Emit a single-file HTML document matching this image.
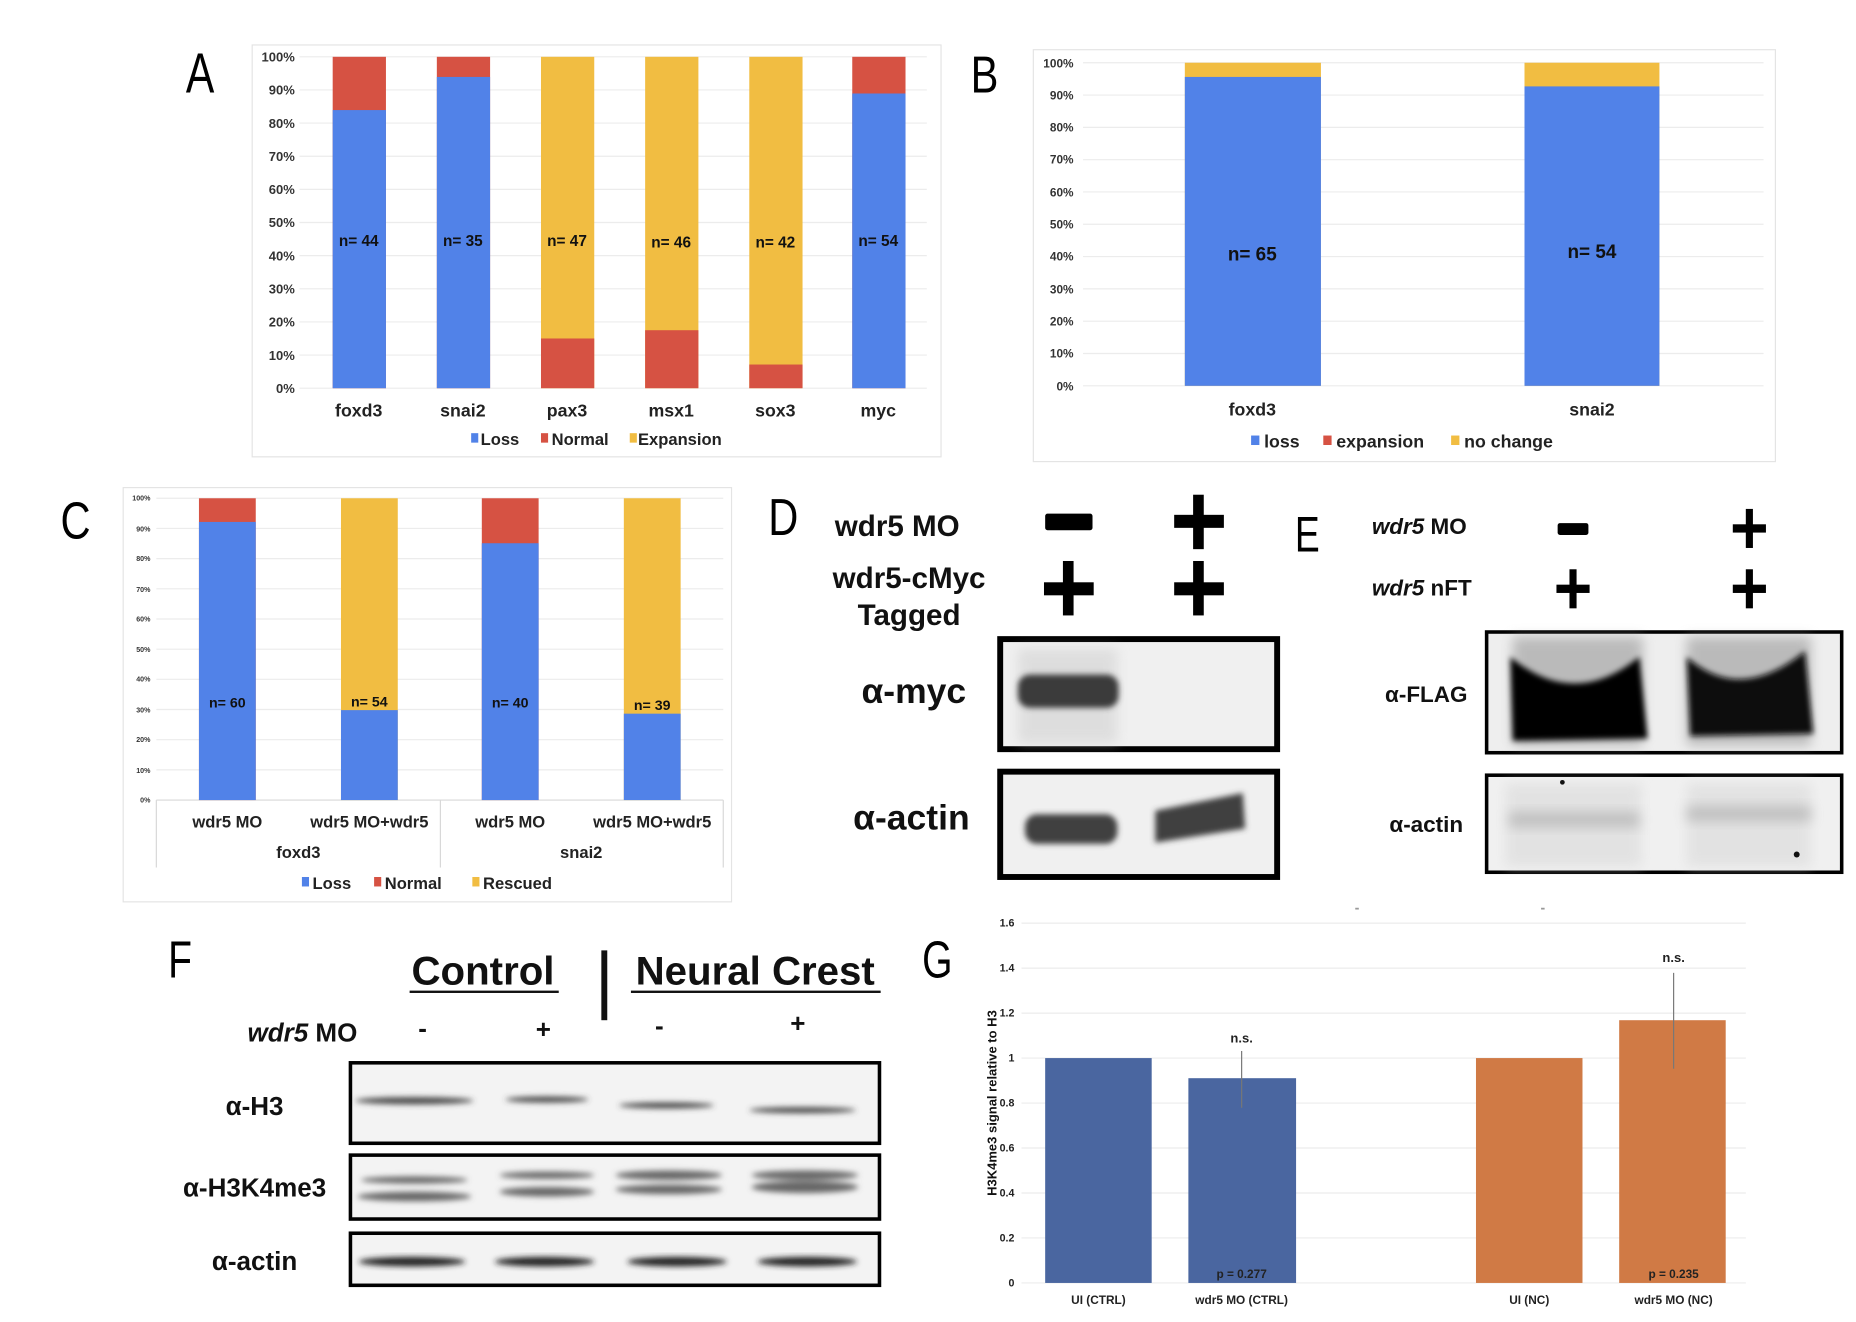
<!DOCTYPE html>
<html><head><meta charset="utf-8"><style>
html,body{margin:0;padding:0;background:#fff;}
svg{display:block;}
text{font-family:"Liberation Sans",sans-serif;}
</style></head><body>
<svg width="1856" height="1322" viewBox="0 0 1568 1117" xmlns="http://www.w3.org/2000/svg">
<defs>
<filter id="bl" x="-20%" y="-50%" width="140%" height="200%"><feGaussianBlur stdDeviation="5"/></filter>
<filter id="bl2" x="-20%" y="-50%" width="140%" height="200%"><feGaussianBlur stdDeviation="2.5"/></filter>
</defs>
<rect width="1568" height="1117" fill="#fff"/>

<!-- Panel A -->
<text transform="translate(157,78) scale(0.75,1)" font-size="48" font-family="DejaVu Sans">A</text>
<rect x="213" y="38" width="582" height="348" fill="#fff" stroke="#e4e4e4"/>
<g stroke="#ececec" stroke-width="1">
<line x1="253" y1="48" x2="783" y2="48"/><line x1="253" y1="76" x2="783" y2="76"/><line x1="253" y1="104" x2="783" y2="104"/><line x1="253" y1="132" x2="783" y2="132"/><line x1="253" y1="160" x2="783" y2="160"/><line x1="253" y1="188" x2="783" y2="188"/><line x1="253" y1="216" x2="783" y2="216"/><line x1="253" y1="244" x2="783" y2="244"/><line x1="253" y1="272" x2="783" y2="272"/><line x1="253" y1="300" x2="783" y2="300"/><line x1="253" y1="328" x2="783" y2="328"/>
</g>
<g font-size="11" text-anchor="end" font-weight="bold" fill="#333">
<text x="249" y="52">100%</text><text x="249" y="80">90%</text><text x="249" y="108">80%</text><text x="249" y="136">70%</text><text x="249" y="164">60%</text><text x="249" y="192">50%</text><text x="249" y="220">40%</text><text x="249" y="248">30%</text><text x="249" y="276">20%</text><text x="249" y="304">10%</text><text x="249" y="332">0%</text>
</g>
<rect x="281" y="48" width="45" height="280" fill="#d65243"/><rect x="281" y="93" width="45" height="235" fill="#5182e8"/>
<rect x="369" y="48" width="45" height="280" fill="#d65243"/><rect x="369" y="65" width="45" height="263" fill="#5182e8"/>
<rect x="457" y="48" width="45" height="280" fill="#f1bd42"/><rect x="457" y="286" width="45" height="42" fill="#d65243"/>
<rect x="545" y="48" width="45" height="280" fill="#f1bd42"/><rect x="545" y="279" width="45" height="49" fill="#d65243"/>
<rect x="633" y="48" width="45" height="280" fill="#f1bd42"/><rect x="633" y="308" width="45" height="20" fill="#d65243"/>
<rect x="720" y="48" width="45" height="280" fill="#d65243"/><rect x="720" y="79" width="45" height="249" fill="#5182e8"/>
<g font-size="13" font-weight="bold" text-anchor="middle" fill="#111">
<text x="303" y="208">n= 44</text><text x="391" y="208">n= 35</text><text x="479" y="208">n= 47</text><text x="567" y="209">n= 46</text><text x="655" y="209">n= 42</text><text x="742" y="208">n= 54</text>
</g>
<g font-size="15" font-weight="bold" text-anchor="middle" fill="#222">
<text x="303" y="352">foxd3</text><text x="391" y="352">snai2</text><text x="479" y="352">pax3</text><text x="567" y="352">msx1</text><text x="655" y="352">sox3</text><text x="742" y="352">myc</text>
</g>
<g font-size="14" font-weight="bold" fill="#222">
<rect x="398" y="366" width="6" height="8" fill="#5182e8"/><text x="406" y="376">Loss</text>
<rect x="457" y="366" width="6" height="8" fill="#d65243"/><text x="466" y="376">Normal</text>
<rect x="532" y="366" width="6" height="8" fill="#f1bd42"/><text x="539" y="376">Expansion</text>
</g>

<!-- Panel B -->
<text transform="translate(820,78) scale(0.8,1)" font-size="44" font-family="DejaVu Sans">B</text>
<rect x="873" y="42" width="627" height="348" fill="#fff" stroke="#e4e4e4"/>
<g stroke="#ececec">
<line x1="915" y1="53" x2="1490" y2="53"/><line x1="915" y1="80.3" x2="1490" y2="80.3"/><line x1="915" y1="107.6" x2="1490" y2="107.6"/><line x1="915" y1="134.9" x2="1490" y2="134.9"/><line x1="915" y1="162.2" x2="1490" y2="162.2"/><line x1="915" y1="189.5" x2="1490" y2="189.5"/><line x1="915" y1="216.8" x2="1490" y2="216.8"/><line x1="915" y1="244.1" x2="1490" y2="244.1"/><line x1="915" y1="271.4" x2="1490" y2="271.4"/><line x1="915" y1="298.7" x2="1490" y2="298.7"/><line x1="915" y1="326" x2="1490" y2="326"/>
</g>
<g font-size="10" font-weight="bold" text-anchor="end" fill="#333">
<text x="907" y="57">100%</text><text x="907" y="84">90%</text><text x="907" y="111">80%</text><text x="907" y="138">70%</text><text x="907" y="166">60%</text><text x="907" y="193">50%</text><text x="907" y="220">40%</text><text x="907" y="248">30%</text><text x="907" y="275">20%</text><text x="907" y="302">10%</text><text x="907" y="330">0%</text>
</g>
<rect x="1001" y="53" width="115" height="273" fill="#f1bd42"/><rect x="1001" y="65" width="115" height="261" fill="#5182e8"/>
<rect x="1288" y="53" width="114" height="273" fill="#f1bd42"/><rect x="1288" y="73" width="114" height="253" fill="#5182e8"/>
<g font-size="16" font-weight="bold" text-anchor="middle" fill="#111">
<text x="1058" y="220">n= 65</text><text x="1345" y="218">n= 54</text>
</g>
<g font-size="15" font-weight="bold" text-anchor="middle" fill="#222">
<text x="1058" y="351">foxd3</text><text x="1345" y="351">snai2</text>
</g>
<g font-size="15" font-weight="bold" fill="#222">
<rect x="1057" y="368" width="7" height="8" fill="#5182e8"/><text x="1068" y="378">loss</text>
<rect x="1118" y="368" width="7" height="8" fill="#d65243"/><text x="1129" y="378">expansion</text>
<rect x="1226" y="368" width="7" height="8" fill="#f1bd42"/><text x="1237" y="378">no change</text>
</g>

<!-- Panel C -->
<text transform="translate(51,455) scale(0.8,1)" font-size="44" font-family="DejaVu Sans">C</text>
<rect x="104" y="412" width="514" height="350" fill="#fff" stroke="#e4e4e4"/>
<g stroke="#ececec">
<line x1="132" y1="421" x2="611" y2="421"/><line x1="132" y1="446.5" x2="611" y2="446.5"/><line x1="132" y1="472" x2="611" y2="472"/><line x1="132" y1="497.5" x2="611" y2="497.5"/><line x1="132" y1="523" x2="611" y2="523"/><line x1="132" y1="548.5" x2="611" y2="548.5"/><line x1="132" y1="574" x2="611" y2="574"/><line x1="132" y1="599.5" x2="611" y2="599.5"/><line x1="132" y1="625" x2="611" y2="625"/><line x1="132" y1="650.5" x2="611" y2="650.5"/>
</g>
<line x1="132" y1="676" x2="611" y2="676" stroke="#d8d8d8"/>
<g stroke="#d8d8d8"><line x1="132" y1="676" x2="132" y2="733"/><line x1="372" y1="676" x2="372" y2="733"/><line x1="611" y1="676" x2="611" y2="733"/></g>
<g font-size="6" font-weight="bold" text-anchor="end" fill="#333">
<text x="127" y="423">100%</text><text x="127" y="449">90%</text><text x="127" y="474">80%</text><text x="127" y="500">70%</text><text x="127" y="525">60%</text><text x="127" y="551">50%</text><text x="127" y="576">40%</text><text x="127" y="602">30%</text><text x="127" y="627">20%</text><text x="127" y="653">10%</text><text x="127" y="678">0%</text>
</g>
<rect x="168" y="421" width="48" height="255" fill="#d65243"/><rect x="168" y="441" width="48" height="235" fill="#5182e8"/>
<rect x="288" y="421" width="48" height="255" fill="#f1bd42"/><rect x="288" y="600" width="48" height="76" fill="#5182e8"/>
<rect x="407" y="421" width="48" height="255" fill="#d65243"/><rect x="407" y="459" width="48" height="217" fill="#5182e8"/>
<rect x="527" y="421" width="48" height="255" fill="#f1bd42"/><rect x="527" y="603" width="48" height="73" fill="#5182e8"/>
<g font-size="12" font-weight="bold" text-anchor="middle" fill="#111">
<text x="192" y="598">n= 60</text><text x="312" y="597">n= 54</text><text x="431" y="598">n= 40</text><text x="551" y="600">n= 39</text>
</g>
<g font-size="14" font-weight="bold" text-anchor="middle" fill="#222">
<text x="192" y="699">wdr5 MO</text><text x="312" y="699">wdr5 MO+wdr5</text><text x="431" y="699">wdr5 MO</text><text x="551" y="699">wdr5 MO+wdr5</text>
<text x="252" y="725">foxd3</text><text x="491" y="725">snai2</text>
</g>
<g font-size="14" font-weight="bold" fill="#222">
<rect x="255" y="741" width="6" height="8" fill="#5182e8"/><text x="264" y="751">Loss</text>
<rect x="316" y="741" width="6" height="8" fill="#d65243"/><text x="325" y="751">Normal</text>
<rect x="399" y="741" width="6" height="8" fill="#f1bd42"/><text x="408" y="751">Rescued</text>
</g>

<!-- Panel D -->
<text transform="translate(649,452) scale(0.8,1)" font-size="44" font-family="DejaVu Sans">D</text>
<text x="758" y="453" font-size="25" font-weight="bold" text-anchor="middle" fill="#111">wdr5 MO</text>
<rect x="883" y="434" width="40" height="14" rx="2" fill="#000"/>
<rect x="992" y="435" width="42" height="11" fill="#000"/><rect x="1008" y="418" width="9" height="46" fill="#000"/>
<text x="768" y="497" font-size="25" font-weight="bold" text-anchor="middle" fill="#111">wdr5-cMyc</text>
<text x="768" y="528" font-size="25" font-weight="bold" text-anchor="middle" fill="#111">Tagged</text>
<rect x="882" y="492" width="42" height="11" fill="#000"/><rect x="898" y="474" width="9" height="46" fill="#000"/>
<rect x="992" y="492" width="42" height="11" fill="#000"/><rect x="1008" y="474" width="9" height="46" fill="#000"/>
<rect x="845" y="540" width="234" height="93" fill="#f0f0f0" stroke="#000" stroke-width="5"/>
<rect x="860" y="548" width="84" height="80" fill="#ccc" opacity="0.5" filter="url(#bl)"/>
<rect x="860" y="570" width="85" height="28" rx="10" fill="#3a3a3a" filter="url(#bl2)"/>
<text x="772" y="594" font-size="30" font-weight="bold" text-anchor="middle" fill="#111">α-myc</text>
<rect x="845" y="652" width="234" height="89" fill="#f0f0f0" stroke="#000" stroke-width="5"/>
<rect x="866" y="688" width="78" height="25" rx="10" fill="#404040" filter="url(#bl2)"/>
<polygon points="976,685 1050,670 1052,700 976,712" fill="#404040" filter="url(#bl2)"/>
<text x="770" y="701" font-size="30" font-weight="bold" text-anchor="middle" fill="#111">α-actin</text>

<!-- Panel E -->
<text transform="translate(1094,466) scale(0.75,1)" font-size="42" font-family="DejaVu Sans">E</text>
<text x="1159" y="451" font-size="19" font-weight="bold" fill="#111"><tspan font-style="italic">wdr5</tspan> MO</text>
<rect x="1316" y="442" width="26" height="10" rx="2" fill="#000"/>
<rect x="1464" y="443" width="28" height="7" fill="#000"/><rect x="1475" y="430" width="6" height="33" fill="#000"/>
<text x="1159" y="503" font-size="19" font-weight="bold" fill="#111"><tspan font-style="italic">wdr5</tspan> nFT</text>
<rect x="1315" y="494" width="28" height="7" fill="#000"/><rect x="1326" y="481" width="6" height="33" fill="#000"/>
<rect x="1464" y="494" width="28" height="7" fill="#000"/><rect x="1475" y="481" width="6" height="33" fill="#000"/>
<rect x="1256" y="534" width="300" height="102" fill="#eee" stroke="#000" stroke-width="3"/>
<rect x="1278" y="538" width="110" height="92" fill="#999" opacity="0.6" filter="url(#bl)"/>
<rect x="1425" y="538" width="105" height="92" fill="#999" opacity="0.6" filter="url(#bl)"/>
<path d="M1276,555 Q1330,600 1385,555 L1392,624 L1278,626 Z" fill="#050505" filter="url(#bl2)"/>
<path d="M1425,555 Q1470,595 1525,550 L1532,620 L1428,622 Z" fill="#080808" filter="url(#bl2)"/>
<text x="1205" y="593" font-size="19" font-weight="bold" text-anchor="middle" fill="#111">α-FLAG</text>
<rect x="1256" y="655" width="300" height="82" fill="#f0f0f0" stroke="#000" stroke-width="3"/>
<rect x="1272" y="662" width="115" height="70" fill="#ddd" opacity="0.7" filter="url(#bl)"/>
<rect x="1425" y="662" width="105" height="70" fill="#ddd" opacity="0.7" filter="url(#bl)"/>
<rect x="1275" y="686" width="110" height="13" fill="#aaa" opacity="0.6" filter="url(#bl)"/>
<rect x="1425" y="681" width="105" height="13" fill="#aaa" opacity="0.6" filter="url(#bl)"/>
<circle cx="1320" cy="661" r="2" fill="#111"/><circle cx="1518" cy="722" r="2.5" fill="#111"/>
<text x="1205" y="703" font-size="19" font-weight="bold" text-anchor="middle" fill="#111">α-actin</text>

<!-- Panel F -->
<text transform="translate(142,826) scale(0.75,1)" font-size="44" font-family="DejaVu Sans">F</text>
<text x="408" y="832" font-size="34" font-weight="bold" text-anchor="middle" fill="#111">Control</text>
<rect x="346" y="837" width="126" height="2" fill="#111"/>
<rect x="508" y="803" width="5" height="59" fill="#111"/>
<text x="638" y="832" font-size="34" font-weight="bold" text-anchor="middle" fill="#111">Neural Crest</text>
<rect x="533" y="837" width="211" height="2" fill="#111"/>
<text x="209" y="880" font-size="22" font-weight="bold" fill="#111"><tspan font-style="italic">wdr5</tspan> MO</text>
<g font-size="22" font-weight="bold" text-anchor="middle" fill="#111">
<text x="357" y="876">-</text><text x="459" y="877">+</text><text x="557" y="874">-</text><text x="674" y="872">+</text>
</g>
<rect x="296" y="898" width="447" height="68" fill="#f3f3f3" stroke="#000" stroke-width="3"/>
<g fill="#444" filter="url(#bl2)">
<ellipse cx="350" cy="930" rx="50" ry="3"/><ellipse cx="462" cy="929" rx="35" ry="2.5"/><ellipse cx="563" cy="934" rx="40" ry="2.5"/><ellipse cx="678" cy="938" rx="45" ry="2.5"/>
</g>
<text x="215" y="942" font-size="22" font-weight="bold" text-anchor="middle" fill="#111">α-H3</text>
<rect x="296" y="976" width="447" height="54" fill="#f3f3f3" stroke="#000" stroke-width="3"/>
<g fill="#666" filter="url(#bl2)">
<ellipse cx="350" cy="997" rx="45" ry="3"/><ellipse cx="350" cy="1011" rx="48" ry="4"/>
<ellipse cx="462" cy="993" rx="40" ry="3"/><ellipse cx="462" cy="1007" rx="40" ry="4"/>
<ellipse cx="565" cy="993" rx="45" ry="4"/><ellipse cx="565" cy="1005" rx="45" ry="4"/>
<ellipse cx="680" cy="993" rx="45" ry="4"/><ellipse cx="680" cy="1003" rx="45" ry="5"/>
</g>
<text x="215" y="1011" font-size="22" font-weight="bold" text-anchor="middle" fill="#111">α-H3K4me3</text>
<rect x="296" y="1042" width="447" height="44" fill="#f3f3f3" stroke="#000" stroke-width="3"/>
<g fill="#222" filter="url(#bl2)">
<ellipse cx="348" cy="1066" rx="45" ry="4"/><ellipse cx="460" cy="1066" rx="42" ry="4"/><ellipse cx="572" cy="1066" rx="42" ry="4"/><ellipse cx="682" cy="1066" rx="42" ry="4"/>
</g>
<text x="215" y="1073" font-size="22" font-weight="bold" text-anchor="middle" fill="#111">α-actin</text>

<!-- Panel G -->
<text transform="translate(779,826) scale(0.75,1)" font-size="44" font-family="DejaVu Sans">G</text>
<g fill="#999"><rect x="1145" y="767" width="3" height="1.5"/><rect x="1302" y="767" width="3" height="1.5"/></g>
<g stroke="#ececec">
<line x1="863" y1="780" x2="1475" y2="780"/><line x1="863" y1="818" x2="1475" y2="818"/><line x1="863" y1="856" x2="1475" y2="856"/><line x1="863" y1="894" x2="1475" y2="894"/><line x1="863" y1="932" x2="1475" y2="932"/><line x1="863" y1="970" x2="1475" y2="970"/><line x1="863" y1="1008" x2="1475" y2="1008"/><line x1="863" y1="1046" x2="1475" y2="1046"/><line x1="863" y1="1084" x2="1475" y2="1084"/>
</g>
<g font-size="9" font-weight="bold" text-anchor="end" fill="#222">
<text x="857" y="783">1.6</text><text x="857" y="821">1.4</text><text x="857" y="859">1.2</text><text x="857" y="897">1</text><text x="857" y="935">0.8</text><text x="857" y="973">0.6</text><text x="857" y="1011">0.4</text><text x="857" y="1049">0.2</text><text x="857" y="1087">0</text>
</g>
<text transform="translate(842,932) rotate(-90)" font-size="11" font-weight="bold" text-anchor="middle" fill="#111">H3K4me3 signal relative to H3</text>
<rect x="883" y="894" width="90" height="190" fill="#4a66a0"/>
<rect x="1004" y="911" width="91" height="173" fill="#4a66a0"/>
<rect x="1247" y="894" width="90" height="190" fill="#d07a45"/>
<rect x="1368" y="862" width="90" height="222" fill="#d07a45"/>
<g stroke="#777" stroke-width="1"><line x1="1049" y1="888" x2="1049" y2="936"/><line x1="1414" y1="822" x2="1414" y2="903"/></g>
<g font-size="11" font-weight="bold" text-anchor="middle" fill="#222">
<text x="1049" y="881">n.s.</text><text x="1414" y="813">n.s.</text>
<text x="1049" y="1080" font-size="10">p = 0.277</text><text x="1414" y="1080" font-size="10">p = 0.235</text>
<text x="928" y="1102" font-size="10">UI (CTRL)</text><text x="1049" y="1102" font-size="10">wdr5 MO (CTRL)</text><text x="1292" y="1102" font-size="10">UI (NC)</text><text x="1414" y="1102" font-size="10">wdr5 MO (NC)</text>
</g>
</svg>
</body></html>
